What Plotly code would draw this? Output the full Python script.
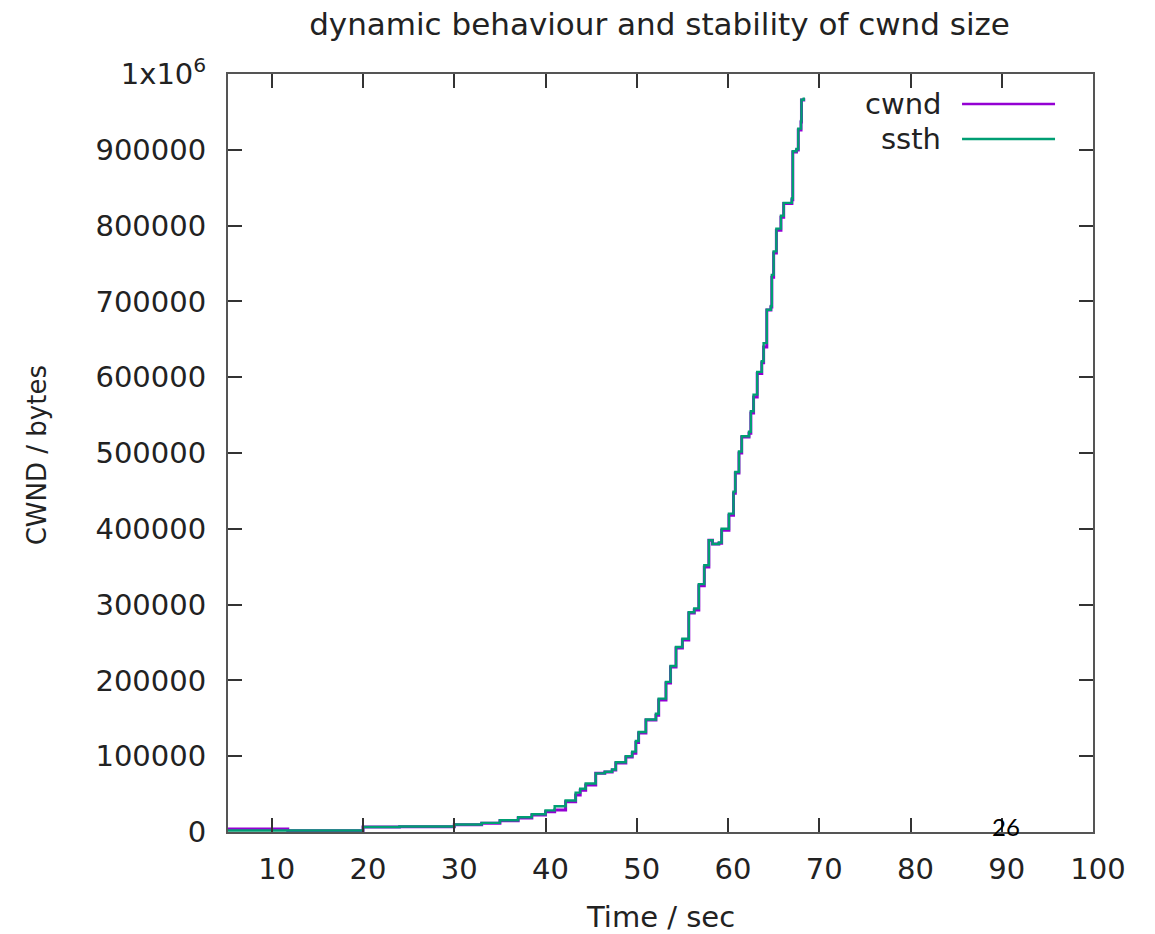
import plotly.graph_objects as go

# ---- data ----
time_s = [5.2, 11.75, 17.8, 20, 24, 30, 33, 35, 37, 38.5, 40, 41, 42.2, 43.3, 43.8, 44.4, 45.5,
          46.5, 47.3, 47.7, 48.8, 49.5, 49.9, 50.2, 51, 52.1, 52.4, 53.2, 53.7, 54.3, 55, 55.7,
          56.3, 56.8, 57.4, 57.9, 58.3, 59, 59.3, 60.1, 60.6, 60.8, 61.2, 61.5, 62.3, 62.5,
          62.8, 63.2, 63.7, 63.9, 64.25, 64.7, 64.8, 65, 65.3, 65.8, 66.1, 67, 67.1, 67.5,
          67.7, 68, 68.05, 68.3]

cwnd = [4000, 1500, 1500, 6500, 7000, 9500, 11500, 15000, 18500, 22400, 26800, 29000, 40000,
        48800, 55000, 62000, 77400, 79000, 81800, 91000, 99000, 104000, 118000, 130600, 147700,
        154000, 174000, 196600, 217700, 242700, 253300, 289000, 293000, 325000, 349600, 385000,
        380000, 381000, 398000, 418000, 447000, 473600, 500000, 521000, 526000, 552800,
        574000, 605000, 619000, 640000, 688600, 692600, 732000, 764000, 794000, 811000,
        829000, 834000, 897000, 899700, 926000, 936700, 965700, 968000]

ssth = [2000, 2000, 2000, 6500, 7200, 9800, 12000, 15500, 19500, 23500, 28500, 34000, 41500,
        52000, 57000, 64000, 77400, 79500, 82500, 92000, 100000, 106000, 120000, 132000, 148500,
        156000, 176000, 198000, 219000, 244000, 255000, 290000, 295000, 327000, 352000, 385000,
        380000, 382000, 400000, 420000, 449000, 475000, 502000, 522000, 528000, 555000,
        577000, 607000, 621000, 645000, 689000, 694000, 735000, 766000, 796000, 813000,
        830000, 836000, 898000, 901000, 928000, 938000, 966000, 969000]

x_ticks = [10, 20, 30, 40, 50, 60, 70, 80, 90, 100]
y_ticks = [0, 100000, 200000, 300000, 400000, 500000, 600000, 700000, 800000, 900000, 1000000]
y_tick_text = ["0", "100000", "200000", "300000", "400000", "500000", "600000", "700000",
               "800000", "900000", "1x10<sup>6</sup>"]

PURPLE = "#9400d3"
TEAL = "#009e73"
TXT = "#222222"
FONT = "DejaVu Sans"
FS = 29

fig = go.Figure()
fig.add_trace(go.Scatter(x=time_s, y=cwnd, mode="lines", name="cwnd",
                         line=dict(color=PURPLE, width=3, shape="hv")))
fig.add_trace(go.Scatter(x=time_s, y=ssth, mode="lines", name="ssth",
                         line=dict(color=TEAL, width=2.4, shape="hv")))

axis_common = dict(showgrid=False, zeroline=False, showline=True, linecolor="#555555",
                   linewidth=2, mirror="ticks", ticks="inside", ticklen=14, tickwidth=2,
                   tickcolor="#333333", tickfont=dict(family=FONT, size=FS, color=TXT))

fig.update_xaxes(range=[5.2, 100], tickvals=x_ticks, ticklabelstandoff=10,
                 ticklabelshift=5, **axis_common)
fig.update_yaxes(range=[0, 1000000], tickvals=y_ticks, ticktext=y_tick_text,
                 ticklabelstandoff=14, **axis_common)

annotations = [
    dict(text="Time / sec", x=0.5, y=-0.112, xref="paper", yref="paper",
         xanchor="center", yanchor="middle", showarrow=False,
         font=dict(family=FONT, size=FS, color=TXT)),
    dict(text="CWND / bytes", x=-0.2208, y=0.497, xref="paper", yref="paper",
         xanchor="center", yanchor="middle", textangle=-90, showarrow=False,
         font=dict(family=FONT, size=26, color=TXT)),
    dict(text="cwnd", x=0.8266, y=0.9604, xref="paper", yref="paper",
         xanchor="right", yanchor="middle", showarrow=False,
         font=dict(family=FONT, size=FS, color=TXT)),
    dict(text="ssth", x=0.8266, y=0.9142, xref="paper", yref="paper",
         xanchor="right", yanchor="middle", showarrow=False,
         font=dict(family=FONT, size=FS, color=TXT)),
    dict(text="26", x=0.8994, y=0.0079, xref="paper", yref="paper",
         xanchor="center", yanchor="middle", showarrow=False,
         font=dict(family="Lato", size=24, color="#000000")),
]

shapes = [
    dict(type="line", xref="paper", yref="paper", x0=0.8486, x1=0.9561, y0=0.9604, y1=0.9604,
         line=dict(color=PURPLE, width=2.4)),
    dict(type="line", xref="paper", yref="paper", x0=0.8486, x1=0.9561, y0=0.9142, y1=0.9142,
         line=dict(color=TEAL, width=2.4)),
]

fig.update_layout(
    width=1155, height=934,
    margin=dict(l=228, r=62, t=74, b=102),
    paper_bgcolor="white", plot_bgcolor="white",
    showlegend=False,
    title=dict(text="dynamic behaviour and stability of cwnd size", xref="container",
               yref="container", x=0.571, y=0.974, xanchor="center", yanchor="middle",
               font=dict(family=FONT, size=31, color=TXT)),
    annotations=annotations, shapes=shapes,
)

fig.write_html("out.html")
